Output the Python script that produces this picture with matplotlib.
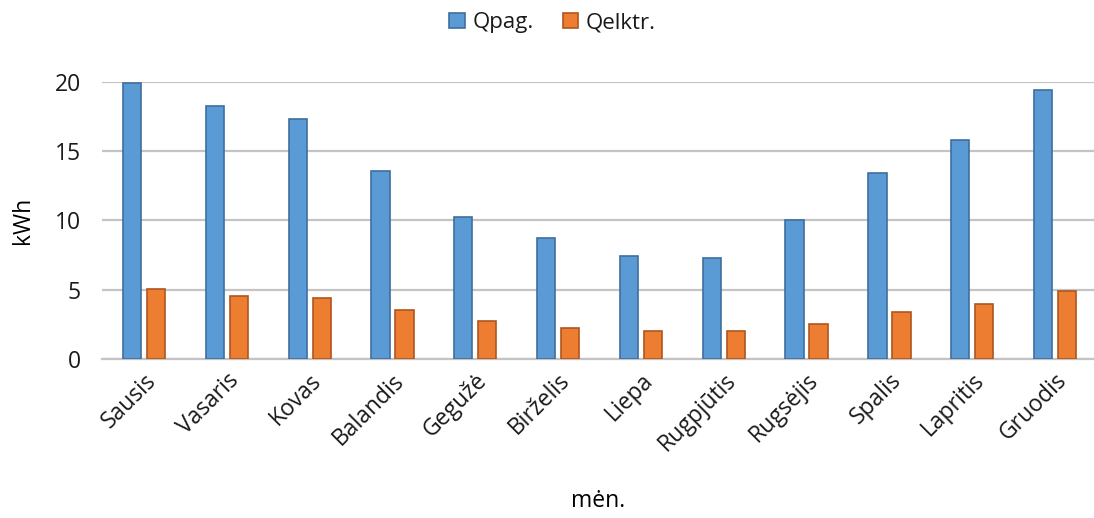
import numpy as np
import matplotlib.pyplot as plt

# monthly energy, kWh
months = ['Sausis', 'Vasaris', 'Kovas', 'Balandis', 'Gegužė', 'Birželis',
          'Liepa', 'Rugpjūtis', 'Rugsėjis', 'Spalis', 'Lapritis', 'Gruodis']
q_pag = [19.9, 18.25, 17.35, 13.55, 10.25, 8.7, 7.45, 7.3, 10.0, 13.4, 15.8, 19.4]
q_elktr = [5.05, 4.55, 4.4, 3.5, 2.75, 2.2, 2.0, 2.0, 2.5, 3.4, 4.0, 4.9]

plt.rcParams['font.family'] = ['Open Sans', 'DejaVu Sans']
plt.rcParams['text.color'] = '#1a1a1a'

fig = plt.figure(figsize=(10.94, 5.18), dpi=100)
ax = fig.add_axes([0.093, 0.307, 0.907, 0.535])

x = np.arange(len(months))
w = 0.22
ax.bar(x - 0.145, q_pag, w, color='#5B9BD5', edgecolor='#3F6F9E', linewidth=1.2,
       label='Qpag.', zorder=3)
ax.bar(x + 0.145, q_elktr, w, color='#ED7D31', edgecolor='#B0561E', linewidth=1.2,
       label='Qelktr.', zorder=3)

ax.set_xlim(-0.51, 11.47)
ax.set_ylim(0, 20)
ax.set_yticks([0, 5, 10, 15, 20])
ax.yaxis.grid(True, color='#C4C4C4', linewidth=1.6, zorder=0)
for s in ['top', 'right', 'left']:
    ax.spines[s].set_visible(False)
ax.spines['bottom'].set_color('#C4C4C4')
ax.spines['bottom'].set_linewidth(1.6)
ax.tick_params(axis='both', length=0, labelsize=16.5, colors='#1a1a1a')
ax.tick_params(axis='y', pad=15)

ax.set_xticks(x)
ax.set_xticklabels(months, rotation=45, ha='right', rotation_mode='anchor')
ax.tick_params(axis='x', pad=7)

ax.set_ylabel('kWh', fontsize=16.5, labelpad=14)
ax.set_xlabel('mėn.', fontsize=16.5, labelpad=24)

fig.legend(loc='upper center', bbox_to_anchor=(0.505, 1.015), ncol=2, frameon=False,
           fontsize=16, handlelength=0.7, handleheight=0.7, columnspacing=1.3,
           handletextpad=0.35)

fig.savefig('out.png', dpi=100)
